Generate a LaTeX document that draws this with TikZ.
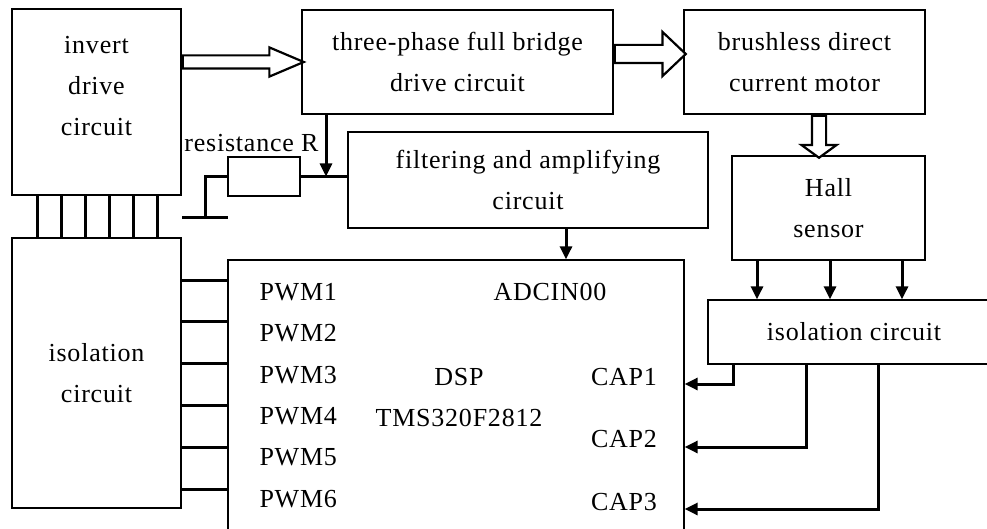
\documentclass[tikz,border=0pt]{standalone}
\usepackage{fontspec}
\setmainfont[LetterSpace=3]{Liberation Serif}
\usetikzlibrary{positioning,arrows.meta,shapes.arrows,calc}
\tikzset{
  every node/.style={font=\fontsize{26}{41}\selectfont, align=center},
  block/.style={
    rectangle, draw, line width=1.3pt,
    inner sep=0pt
  },
  wire/.style={line width=3pt},
  sig/.style={
    -{Triangle[length=13pt,width=12pt]},
    line width=3pt
  },
  hollow/.style={
    single arrow, draw, fill=white, anchor=tail,
    line width=2.2pt, inner xsep=0pt
  },
}
\begin{document}
\begin{tikzpicture}[x=1pt,y=-1pt]
  \fill[white, use as bounding box] (0,0) rectangle (987,529);
  \clip (0,0) rectangle (987,529);
  \node[block, minimum width=169, minimum height=186, label={[yshift=15.5pt]center:invert\\drive\\circuit}] (inv) at (96.5,102) {};
  \node[block, minimum width=169, minimum height=270] (iso) at (96.5,373) {isolation\\circuit};
  \node[block, minimum width=311, minimum height=104] (bridge) at (457.5,62) {three-phase full bridge\\drive circuit};
  \node[block, minimum width=241, minimum height=104] (motor) at (804.5,62) {brushless direct\\current motor};
  \node[block, minimum width=360, minimum height=96] (filter) at (528,180) {filtering and amplifying\\circuit};
  \node[block, minimum width=193, minimum height=104] (hall) at (828.5,208) {Hall\\sensor};
  \node[block, minimum width=292, minimum height=64] (isoR) at (854,332) {isolation circuit};
  \node[block, minimum width=456, minimum height=340] (dsp) at (456,430) {};
  \node[block, minimum width=72, minimum height=39] (res) at (264,176.5) {};
  \node (reslabel) at (251.5,143) {resistance R};
  \node (adc) at (550,292) {ADCIN00};
  \node (chip) at (459,397.5) {DSP\\TMS320F2812};
  \foreach \i in {1,2,3}
    \node (cap\i) at (624,314.5+62.5*\i) {CAP\i};
  \foreach \i [evaluate=\i as \y using 250.6+41.4*\i] in {1,...,6}
    \node[anchor=west] (pwm\i) at (256,\y) {PWM\i};

  \node[hollow, minimum height=121, inner ysep=5.5pt, single arrow head extend=8pt, single arrow tip angle=46] (h1) at (inv.east |- bridge.west) {};
  \node[hollow, minimum height=71, inner ysep=8pt, single arrow head extend=13pt, single arrow tip angle=87] (h2) at ([yshift=8pt]bridge.east) {};
  \node[hollow, rotate=-90, minimum height=42, inner ysep=6pt, single arrow head extend=10.5pt, single arrow tip angle=108] (h3) at (motor.south -| 819,0) {};

  \foreach \x in {37,61,...,157}
    \draw[wire] (inv.south -| \x,0) -- (iso.north -| \x,0);
  \foreach \i [evaluate=\i as \y using 238.2+41.8*\i] in {1,...,6}
    \draw[wire] (iso.east |- 0,\y) -- (dsp.west |- 0,\y);

  \coordinate (tap) at (326,176.5);
  \coordinate (gnd) at (205,218);
  \draw[wire] (res.east) -- (filter.west |- res.east);
  \draw[sig] (bridge.south -| tap) -- (tap);
  \draw[wire] (res.west) -| (gnd);
  \draw[wire] ([xshift=-23pt]gnd) -- ([xshift=23pt]gnd);
  \draw[sig] (filter.south -| 566,0) -- (dsp.north -| 566,0);

  \foreach \x in {757,830,902}
    \draw[sig] (hall.south -| \x,0) -- (isoR.north -| \x,0);
  \foreach \x/\y in {733/384,806/447,878/509}
    \draw[sig] (isoR.south -| \x,0) |- (dsp.east |- 0,\y);
\end{tikzpicture}
\end{document}
